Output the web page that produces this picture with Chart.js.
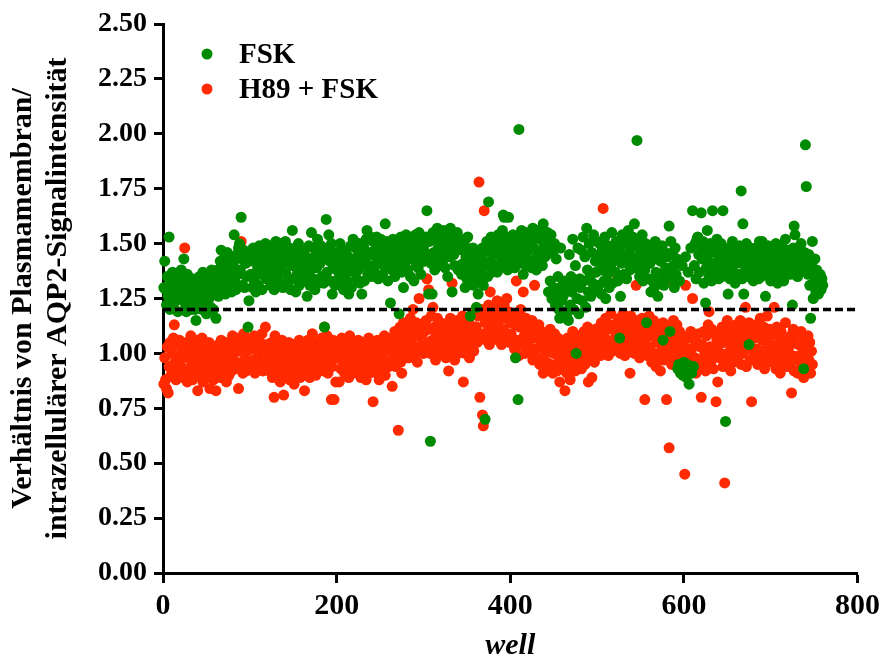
<!DOCTYPE html>
<html>
<head>
<meta charset="utf-8">
<script src="https://cdn.jsdelivr.net/npm/chart.js@4.4.1/dist/chart.umd.min.js"></script>
<style>
    html, body { margin: 0; padding: 0; background: #ffffff; }
    #chart { display: block; }
</style>
</head>
<body>
<canvas id="chart" width="885" height="661"></canvas>
<script>
// one value per well, well number = position in the list + 1
const fskValues = [
    1.30, 1.42, 1.29, 1.22, 1.35, 1.26, 1.53, 1.20, 1.32, 1.25, 1.37, 1.21, 1.28, 1.33, 1.24, 1.31, 1.19, 1.27, 1.36, 1.29,
    1.38, 1.32, 1.25, 1.43, 1.31, 1.22, 1.19, 1.36, 1.28, 1.23, 1.33, 1.26, 1.20, 1.34, 1.29, 1.24, 1.20, 1.15, 1.31, 1.26,
    1.28, 1.35, 1.23, 1.31, 1.20, 1.37, 1.26, 1.33, 1.24, 1.18, 1.30, 1.36, 1.25, 1.32, 1.21, 1.38, 1.27, 1.20, 1.34, 1.30,
    1.16, 1.31, 1.38, 1.26, 1.35, 1.42, 1.47, 1.29, 1.39, 1.32, 1.44, 1.27, 1.37, 1.46, 1.30, 1.40, 1.34, 1.43, 1.28, 1.38,
    1.41, 1.54, 1.33, 1.29, 1.45, 1.36, 1.48, 1.50, 1.38, 1.62, 1.43, 1.31, 1.47, 1.30, 1.41, 1.35, 1.46, 1.12, 1.24, 1.42,
    1.36, 1.45, 1.30, 1.48, 1.33, 1.42, 1.28, 1.46, 1.39, 1.31, 1.49, 1.36, 1.43, 1.29, 1.47, 1.38, 1.44, 1.50, 1.34, 1.41,
    1.45, 1.35, 1.49, 1.31, 1.43, 1.38, 1.48, 1.29, 1.41, 1.51, 1.34, 1.44, 1.37, 1.47, 1.32, 1.50, 1.40, 1.30, 1.42, 1.46,
    1.51, 1.36, 1.45, 1.32, 1.41, 1.48, 1.29, 1.40, 1.56, 1.43, 1.34, 1.47, 1.28, 1.42, 1.37, 1.50, 1.31, 1.41, 1.46, 1.35,
    1.40, 1.33, 1.47, 1.36, 1.44, 1.26, 1.41, 1.49, 1.31, 1.38, 1.55, 1.43, 1.34, 1.48, 1.29, 1.45, 1.39, 1.52, 1.32, 1.44,
    1.41, 1.49, 1.35, 1.45, 1.32, 1.12, 1.44, 1.61, 1.37, 1.48, 1.54, 1.42, 1.33, 1.50, 1.27, 1.40, 1.46, 1.31, 1.44, 1.38,
    1.45, 1.34, 1.42, 1.50, 1.31, 1.40, 1.47, 1.29, 1.41, 1.36, 1.46, 1.33, 1.44, 1.27, 1.38, 1.49, 1.30, 1.43, 1.52, 1.37,
    1.41, 1.48, 1.34, 1.44, 1.38, 1.50, 1.32, 1.45, 1.27, 1.40, 1.49, 1.33, 1.43, 1.52, 1.56, 1.36, 1.46, 1.40, 1.53, 1.35,
    1.45, 1.51, 1.38, 1.47, 1.35, 1.53, 1.42, 1.34, 1.49, 1.41, 1.52, 1.46, 1.36, 1.48, 1.40, 1.59, 1.44, 1.51, 1.33, 1.47,
    1.42, 1.23, 1.49, 1.38, 1.52, 1.45, 1.35, 1.48, 1.43, 1.51, 1.40, 1.18, 1.47, 1.53, 1.37, 1.44, 1.30, 1.50, 1.41, 1.54,
    1.45, 1.38, 1.51, 1.47, 1.35, 1.53, 1.43, 1.50, 1.33, 1.46, 1.54, 1.40, 1.49, 1.39, 1.55, 1.44, 1.36, 1.51, 1.42, 1.48,
    1.50, 1.42, 1.53, 1.65, 1.45, 1.27, 1.51, 0.60, 1.41, 1.27, 1.55, 1.46, 1.38, 1.52, 1.44, 1.57, 1.48, 1.40, 1.54, 1.45,
    1.51, 1.42, 1.56, 1.46, 1.39, 1.53, 1.48, 1.35, 1.52, 1.44, 1.57, 1.49, 1.28, 1.54, 1.45, 1.40, 1.51, 1.47, 1.55, 1.38,
    1.48, 1.40, 1.52, 1.36, 1.47, 1.41, 1.50, 1.30, 1.44, 1.34, 1.53, 1.38, 1.46, 1.17, 1.40, 1.33, 1.48, 1.31, 1.43, 1.36,
    1.21, 1.40, 1.27, 1.45, 1.33, 1.43, 1.36, 1.48, 1.31, 1.46, 0.70, 1.40, 1.51, 1.35, 1.69, 1.47, 1.42, 1.53, 1.37, 1.49,
    1.45, 1.52, 1.40, 1.49, 1.37, 1.54, 1.46, 1.39, 1.51, 1.43, 1.56, 1.63, 1.62, 1.47, 1.41, 1.53, 1.38, 1.62, 1.50, 1.44,
    1.50, 1.42, 1.54, 1.47, 1.39, 0.98, 1.53, 1.45, 0.79, 2.02, 1.49, 1.41, 1.56, 1.48, 1.36, 1.52, 1.44, 1.55, 1.40, 1.50,
    1.47, 1.54, 1.42, 1.51, 1.39, 1.57, 1.48, 1.43, 1.53, 1.38, 1.56, 1.46, 1.41, 1.52, 1.45, 1.55, 1.40, 1.59, 1.49, 1.44,
    1.52, 1.45, 1.55, 1.28, 1.48, 1.33, 1.54, 1.25, 1.46, 1.30, 1.50, 1.22, 1.43, 1.27, 1.35, 1.20, 1.16, 1.48, 1.24, 1.31,
    1.26, 1.33, 1.19, 1.29, 1.17, 1.32, 1.15, 1.45, 1.22, 1.35, 1.28, 1.52, 1.20, 1.31, 1.40, 1.00, 1.25, 1.48, 1.18, 1.34,
    1.30, 1.47, 1.24, 1.53, 1.33, 1.44, 1.21, 1.57, 1.38, 1.28, 1.50, 1.35, 1.26, 1.46, 1.32, 1.54, 1.29, 1.42, 1.37, 1.51,
    1.44, 1.31, 1.50, 1.38, 1.27, 1.47, 1.41, 1.33, 1.53, 1.25, 1.43, 1.36, 1.49, 1.30, 1.46, 1.39, 1.55, 1.32, 1.42, 1.48,
    1.37, 1.51, 1.44, 1.33, 1.48, 1.07, 1.26, 1.41, 1.54, 1.45, 1.36, 1.50, 1.42, 1.34, 1.52, 1.56, 1.46, 1.38, 1.49, 1.41,
    1.53, 1.44, 1.59, 1.39, 1.49, 1.97, 1.42, 1.51, 1.35, 1.46, 1.40, 1.54, 1.33, 1.48, 1.38, 1.50, 1.14, 1.43, 1.34, 1.45,
    1.41, 1.28, 1.48, 1.33, 1.45, 1.30, 1.51, 1.37, 1.43, 1.26, 1.47, 1.32, 1.42, 1.36, 1.49, 1.06, 1.31, 1.46, 1.39, 1.35,
    1.44, 1.37, 1.58, 1.10, 1.51, 1.34, 1.46, 1.40, 1.30, 1.48, 1.36, 1.43, 0.93, 0.95, 1.33, 0.91, 0.94, 1.40, 0.90, 0.96,
    0.92, 1.44, 0.89, 0.95, 1.37, 0.86, 0.93, 1.48, 0.91, 1.65, 0.94, 1.40, 1.50, 1.34, 1.52, 1.53, 1.45, 1.37, 1.49, 1.64,
    1.43, 1.51, 1.32, 1.47, 1.23, 1.39, 1.56, 1.45, 1.35, 1.50, 1.41, 1.33, 1.65, 1.48, 1.39, 1.46, 1.36, 1.52, 1.42, 1.34,
    1.47, 1.38, 1.50, 1.35, 1.65, 1.43, 1.37, 0.69, 1.46, 1.40, 1.27, 1.48, 1.34, 1.45, 1.39, 1.51, 1.36, 1.43, 1.32, 1.47,
    1.41, 1.45, 1.36, 1.49, 1.42, 1.74, 1.34, 1.59, 1.27, 1.46, 1.39, 1.50, 1.35, 1.44, 1.04, 1.40, 1.48, 1.37, 1.45, 1.33,
    1.43, 1.36, 1.48, 1.39, 1.44, 1.34, 1.51, 1.40, 1.35, 1.51, 1.45, 1.37, 1.47, 1.26, 1.42, 1.36, 1.49, 1.39, 1.44, 1.33,
    1.45, 1.37, 1.48, 1.40, 1.34, 1.50, 1.42, 1.32, 1.46, 1.39, 1.44, 1.36, 1.49, 1.41, 1.33, 1.45, 1.52, 1.37, 1.43, 1.47,
    1.40, 1.46, 1.36, 1.44, 1.22, 1.48, 1.58, 1.54, 1.40, 1.45, 1.35, 1.47, 1.42, 1.37, 1.50, 1.43, 1.39, 0.93, 1.46, 1.95,
    1.76, 1.41, 1.36, 1.45, 1.31, 1.16, 1.40, 1.51, 1.25, 1.35, 1.43, 1.28, 1.38, 1.33, 1.27, 1.31, 1.36, 1.29, 1.34, 1.31
];

const h89Values = [
    0.86, 0.98, 0.88, 0.84, 1.03, 0.82, 0.94, 1.05, 0.90, 1.00, 0.93, 1.07, 1.13, 0.96, 0.88, 1.04, 0.99, 0.91, 1.06, 0.97,
    0.94, 1.03, 0.89, 1.00, 1.48, 0.92, 1.05, 0.87, 0.98, 1.01, 0.91, 1.08, 0.95, 0.88, 1.04, 0.99, 0.90, 0.94, 1.06, 0.83,
    0.97, 0.90, 1.02, 0.93, 1.07, 0.87, 0.99, 0.94, 1.04, 0.89, 1.00, 0.95, 1.05, 0.84, 0.91, 1.03, 0.97, 0.88, 0.94, 1.02,
    0.83, 0.99, 0.92, 1.04, 0.95, 0.89, 1.06, 0.97, 0.91, 1.01, 0.93, 1.00, 0.87, 1.05, 0.96, 0.90, 1.03, 0.98, 0.92, 1.08,
    1.00, 1.05, 0.93, 1.02, 0.96, 1.07, 0.84, 1.01, 0.94, 1.51, 1.04, 0.91, 1.09, 0.97, 1.06, 0.92, 1.01, 0.95, 1.05, 0.93,
    1.02, 0.94, 1.06, 0.97, 1.08, 0.91, 1.03, 0.98, 1.07, 0.93, 1.01, 1.05, 0.95, 1.09, 0.92, 1.02, 0.97, 1.12, 0.94, 1.04,
    0.98, 0.92, 1.03, 0.95, 1.05, 0.89, 1.00, 0.80, 1.08, 0.93, 1.01, 0.91, 0.97, 1.04, 0.87, 0.95, 1.06, 0.90, 0.81, 0.99,
    0.94, 1.02, 0.90, 0.97, 1.05, 0.88, 0.95, 1.00, 0.92, 1.04, 0.86, 0.97, 1.03, 0.91, 0.99, 0.94, 1.06, 0.89, 1.00, 0.96,
    0.97, 1.03, 0.83, 0.94, 1.01, 0.91, 1.06, 0.98, 0.89, 1.04, 0.95, 1.09, 0.92, 1.00, 1.05, 0.90, 0.97, 1.03, 0.93, 1.01,
    1.03, 0.95, 1.07, 0.99, 0.92, 1.12, 1.01, 0.96, 1.08, 0.91, 1.05, 0.97, 1.02, 0.79, 0.94, 1.06, 0.79, 1.00, 0.87, 1.04,
    0.98, 1.05, 0.87, 1.01, 0.93, 1.07, 0.96, 1.03, 0.91, 1.06, 0.99, 0.94, 1.04, 0.89, 1.08, 0.97, 0.92, 1.01, 0.96, 1.05,
    0.95, 1.03, 0.91, 0.99, 1.06, 0.93, 1.01, 0.89, 0.98, 1.05, 0.92, 1.04, 0.96, 0.88, 1.01, 0.95, 1.07, 0.91, 1.00, 1.03,
    0.97, 0.78, 1.04, 0.93, 1.01, 0.91, 1.06, 0.98, 0.88, 1.03, 0.95, 1.05, 0.92, 1.00, 1.08, 0.90, 1.01, 0.96, 1.04, 0.94,
    1.01, 0.96, 1.07, 0.85, 1.04, 0.98, 1.10, 0.94, 1.03, 1.08, 0.65, 1.00, 1.12, 0.96, 0.91, 1.05, 1.14, 0.98, 1.09, 1.02,
    1.05, 1.12, 0.98, 1.09, 1.16, 1.01, 1.07, 1.20, 0.99, 1.10, 1.03, 1.14, 0.96, 1.08, 1.25, 1.02, 1.13, 1.04, 1.09, 1.00,
    1.10, 1.02, 1.15, 1.34, 1.05, 1.29, 1.11, 1.00, 1.17, 1.06, 1.21, 1.03, 1.12, 0.97, 1.08, 1.16, 1.01, 1.11, 1.05, 1.14,
    1.04, 1.10, 1.00, 1.13, 1.06, 0.98, 1.11, 1.03, 0.92, 1.09, 1.16, 1.01, 1.32, 1.05, 1.12, 0.97, 1.10, 1.04, 1.15, 1.00,
    1.08, 1.02, 1.13, 1.05, 1.17, 0.87, 1.10, 1.00, 1.14, 1.04, 1.07, 1.15, 0.98, 1.11, 1.03, 1.18, 1.08, 1.01, 1.12, 1.05,
    1.12, 1.05, 1.17, 1.78, 0.80, 1.09, 1.20, 0.72, 0.67, 1.65, 1.14, 1.06, 1.18, 1.10, 1.22, 1.04, 1.28, 1.15, 1.08, 1.19,
    1.12, 1.21, 1.08, 1.16, 1.24, 1.06, 1.15, 1.10, 1.20, 1.04, 1.17, 1.11, 1.22, 1.07, 1.16, 1.25, 1.09, 1.19, 1.05, 1.14,
    1.09, 1.18, 1.05, 1.15, 1.02, 1.13, 1.33, 1.06, 1.17, 0.99, 1.12, 1.20, 1.04, 1.14, 1.28, 1.08, 1.00, 1.16, 1.06, 1.12,
    1.04, 1.12, 1.00, 1.09, 1.15, 0.97, 1.07, 1.31, 1.02, 1.10, 0.98, 1.08, 1.13, 0.95, 1.04, 1.10, 0.96, 0.91, 1.06, 1.00,
    1.03, 0.96, 1.08, 0.93, 1.02, 1.11, 0.95, 1.05, 0.91, 1.00, 1.09, 0.94, 1.04, 0.92, 1.07, 0.98, 0.87, 1.05, 0.95, 1.02,
    0.95, 1.04, 0.83, 1.00, 0.91, 1.07, 0.96, 1.01, 0.88, 1.05, 0.93, 1.10, 0.97, 1.02, 0.92, 1.06, 0.99, 0.94, 1.08, 1.00,
    1.03, 0.93, 1.07, 0.97, 1.10, 0.95, 1.04, 1.00, 1.12, 0.87, 1.05, 0.98, 1.09, 0.89, 1.03, 1.08, 0.96, 1.11, 1.01, 1.06,
    1.08, 1.01, 1.12, 0.99, 1.14, 1.04, 1.66, 1.09, 1.00, 1.16, 1.05, 1.11, 0.99, 1.13, 1.03, 1.18, 1.06, 1.01, 1.12, 1.04,
    1.10, 1.02, 1.14, 1.34, 1.06, 1.16, 1.00, 1.11, 1.04, 1.18, 1.07, 0.99, 1.15, 1.05, 1.13, 1.01, 1.10, 0.91, 1.17, 1.06,
    1.04, 1.13, 1.00, 1.09, 1.31, 1.02, 1.15, 1.06, 0.98, 1.12, 1.05, 1.16, 1.01, 1.10, 0.79, 1.04, 1.14, 0.99, 1.08, 1.17,
    1.03, 1.12, 0.96, 1.08, 1.15, 1.00, 1.09, 0.94, 1.05, 1.13, 0.98, 1.07, 0.92, 1.11, 1.02, 1.14, 0.97, 1.32, 1.04, 0.79,
    1.08, 0.99, 0.57, 1.12, 1.03, 0.95, 1.09, 1.15, 1.00, 1.06, 0.97, 1.13, 1.04, 0.93, 1.10, 1.02, 0.98, 1.08, 0.94, 1.04,
    0.45, 1.31, 1.01, 0.96, 1.07, 0.99, 0.92, 1.10, 1.02, 1.25, 0.95, 1.06, 0.98, 0.91, 1.05, 0.97, 1.09, 0.93, 1.03, 0.80,
    1.04, 0.95, 1.10, 1.00, 0.92, 1.08, 0.98, 1.13, 1.19, 1.03, 0.96, 1.11, 1.01, 0.93, 1.09, 0.99, 0.78, 1.06, 0.87, 1.04,
    0.98, 1.08, 1.00, 1.12, 0.94, 1.05, 0.41, 1.10, 0.99, 1.15, 0.95, 1.06, 1.01, 0.92, 1.11, 1.03, 0.96, 1.09, 1.00, 1.13,
    1.05, 0.97, 1.10, 1.01, 1.15, 0.95, 1.07, 1.00, 1.12, 1.03, 1.21, 0.94, 1.08, 1.02, 1.14, 0.97, 1.06, 0.78, 1.11, 1.01,
    1.07, 0.98, 1.13, 1.02, 0.95, 1.10, 1.01, 1.16, 0.97, 1.06, 0.99, 1.12, 0.93, 1.08, 1.02, 1.17, 0.96, 1.05, 1.11, 0.99,
    1.04, 0.96, 1.09, 1.21, 1.00, 0.93, 1.12, 1.03, 0.97, 1.07, 0.91, 1.10, 1.01, 0.95, 1.06, 0.99, 1.14, 0.94, 1.04, 0.98,
    1.03, 0.94, 1.08, 0.82, 0.99, 1.11, 0.92, 1.05, 0.97, 1.09, 0.91, 1.04, 0.99, 0.93, 1.10, 0.96, 1.03, 0.89, 1.07, 0.98,
    1.02, 0.93, 1.08, 0.97, 1.05, 0.91, 1.01, 0.95
];

const seriesLabels = ['FSK', 'H89 + FSK'];
const seriesColors = ['#008a00', '#ff2a00'];
const thresholdValue = 1.2;
const xTickValues = [0, 200, 400, 600, 800];
const yTickValues = [0, 0.25, 0.5, 0.75, 1, 1.25, 1.5, 1.75, 2, 2.25, 2.5];

const serifBold = { family: '"Liberation Serif", "Times New Roman", serif', weight: 'bold' };

function toPoints(values) {
    return values.map((v, i) => ({ x: i + 1, y: v }));
}

// legend sits inside the plot, top left, like the original figure
const innerLegend = {
    id: 'innerLegend',
    afterDraw(chart) {
        const ctx = chart.ctx;
        ctx.save();
        ctx.font = 'bold 29px "Liberation Serif", "Times New Roman", serif';
        ctx.textBaseline = 'middle';
        ctx.textAlign = 'left';
        seriesLabels.forEach((label, i) => {
            const y = 54 + i * 35;
            ctx.fillStyle = seriesColors[i];
            ctx.beginPath();
            ctx.arc(207, y, 5.5, 0, Math.PI * 2);
            ctx.fill();
            ctx.fillStyle = '#000000';
            ctx.fillText(label, 239, y + 2);
        });
        ctx.restore();
    }
};

new Chart(document.getElementById('chart'), {
    type: 'scatter',
    data: {
        datasets: [
            {
                type: 'line',
                label: 'threshold',
                data: [{ x: 0, y: thresholdValue }, { x: 800, y: thresholdValue }],
                borderColor: '#000000',
                borderWidth: 3.5,
                borderDash: [8, 4],
                pointRadius: 0,
                order: 0
            },
            {
                label: seriesLabels[0],
                data: toPoints(fskValues),
                backgroundColor: seriesColors[0],
                borderWidth: 0,
                pointRadius: 5.5,
                clip: false,
                order: 1
            },
            {
                label: seriesLabels[1],
                data: toPoints(h89Values),
                backgroundColor: seriesColors[1],
                borderWidth: 0,
                pointRadius: 5.5,
                clip: false,
                order: 2
            }
        ]
    },
    options: {
        responsive: false,
        animation: false,
        events: [],
        layout: { padding: { left: 0, right: 25, top: 24, bottom: 0 } },
        plugins: {
            legend: { display: false },
            tooltip: { enabled: false }
        },
        scales: {
            x: {
                type: 'linear',
                min: 0,
                max: 800,
                afterFit: scale => { scale.height = 88; },
                afterBuildTicks: scale => { scale.ticks = xTickValues.map(v => ({ value: v })); },
                ticks: {
                    color: '#000000',
                    padding: 5,
                    font: { ...serifBold, size: 30 }
                },
                grid: {
                    drawOnChartArea: false,
                    color: '#000000',
                    tickLength: 10,
                    tickWidth: 3
                },
                border: { color: '#000000', width: 3 },
                title: {
                    display: true,
                    text: 'well',
                    color: '#000000',
                    padding: { top: 0, bottom: 0 },
                    font: { ...serifBold, style: 'italic', size: 30, lineHeight: 1 }
                }
            },
            y: {
                type: 'linear',
                min: 0,
                max: 2.5,
                afterFit: scale => { scale.width = 163; },
                afterBuildTicks: scale => { scale.ticks = yTickValues.map(v => ({ value: v })); },
                ticks: {
                    color: '#000000',
                    padding: 7,
                    font: { ...serifBold, size: 28 },
                    callback: v => v.toFixed(2)
                },
                grid: {
                    drawOnChartArea: false,
                    color: '#000000',
                    tickLength: 9,
                    tickWidth: 3
                },
                border: { color: '#000000', width: 3 },
                title: {
                    display: true,
                    text: ['Verhältnis von Plasmamembran/', 'intrazellulärer AQP2-Signalintensität'],
                    color: '#000000',
                    padding: { top: 6, bottom: 0 },
                    font: { ...serifBold, size: 30, lineHeight: 1.15 }
                }
            }
        }
    },
    plugins: [innerLegend]
});
</script>
</body>
</html>
